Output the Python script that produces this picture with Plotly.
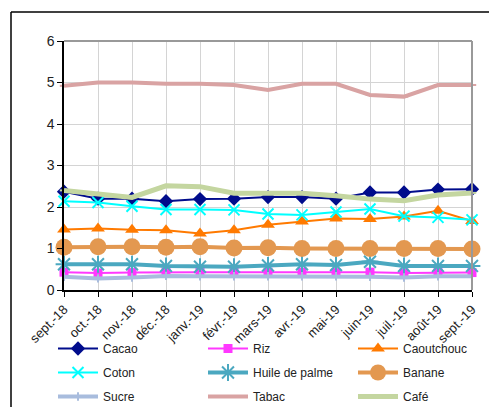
import plotly.graph_objects as go

months = ["sept.-18", "oct.-18", "nov.-18", "déc.-18", "janv.-19", "févr.-19", "mars-19",
          "avr.-19", "mai-19", "juin-19", "juil.-19", "août-19", "sept.-19"]

cacao = [2.37, 2.20, 2.20, 2.14, 2.19, 2.20, 2.24, 2.24, 2.20, 2.35, 2.35, 2.42, 2.43]
riz = [0.43, 0.41, 0.42, 0.43, 0.43, 0.43, 0.43, 0.43, 0.42, 0.43, 0.41, 0.42, 0.42]
caoutchouc = [1.46, 1.48, 1.45, 1.44, 1.36, 1.44, 1.57, 1.65, 1.72, 1.71, 1.77, 1.91, 1.66]
coton = [2.14, 2.11, 2.02, 1.94, 1.94, 1.93, 1.83, 1.81, 1.88, 1.95, 1.78, 1.75, 1.69]
huile = [0.62, 0.62, 0.62, 0.58, 0.56, 0.56, 0.59, 0.62, 0.60, 0.68, 0.58, 0.58, 0.58]
banane = [1.03, 1.04, 1.04, 1.03, 1.04, 1.01, 1.02, 1.00, 1.00, 1.00, 1.00, 1.00, 0.99]
sucre = [0.32, 0.28, 0.30, 0.34, 0.33, 0.33, 0.33, 0.33, 0.33, 0.32, 0.30, 0.33, 0.33]
tabac = [4.92, 5.00, 5.00, 4.97, 4.97, 4.94, 4.82, 4.97, 4.97, 4.70, 4.66, 4.94, 4.94]
cafe = [2.40, 2.31, 2.23, 2.51, 2.49, 2.33, 2.33, 2.33, 2.27, 2.19, 2.15, 2.29, 2.34]

series = [
    # name, values, color, width, symbol, size, legend
    ("Cacao", cacao, "#000C8C", 2, "diamond", 11, "legend"),
    ("Riz", riz, "#FF38FF", 2, "square", 9, "legend2"),
    ("Caoutchouc", caoutchouc, "#FF7A00", 2, "triangle-up", 12, "legend3"),
    ("Coton", coton, "#00FFFF", 2, "x-thin-open", 11, "legend"),
    ("Huile de palme", huile, "#4BA8C0", 4, "asterisk-open", 14, "legend2"),
    ("Banane", banane, "#E39850", 4, "circle", 17, "legend3"),
    ("Sucre", sucre, "#A8BCDD", 4, "line-ns-open", 6, "legend"),
    ("Tabac", tabac, "#D9A3A3", 4, "line-ew-open", 6, "legend2"),
    ("Café", cafe, "#C4D6A0", 5, "line-ew-open", 6, "legend3"),
]

fig = go.Figure()
for i, (name, vals, color, w, sym, size, lg) in enumerate(series):
    fig.add_trace(go.Scatter(
        x=months, y=vals, name=name, mode="lines+markers",
        line=dict(color=color, width=w),
        marker=dict(symbol=sym, size=size, color=color,
                    line=dict(color=color, width=2 if "open" in sym else 0)),
        cliponaxis=False, legend=lg, legendgroup=name,
    ))

font = "Liberation Sans, Arial, sans-serif"
leg_common = dict(orientation="v", xref="container", yref="container",
                  xanchor="left", yanchor="top", tracegroupgap=5,
                  font=dict(family=font, size=12, color="#222"),
                  bgcolor="rgba(0,0,0,0)", itemwidth=40)
W, H = 489, 407
fig.update_layout(
    width=W, height=H,
    margin=dict(l=64, r=17, t=41, b=117, autoexpand=False),
    paper_bgcolor="white", plot_bgcolor="white",
    font=dict(family=font, size=12, color="#222"),
    legend=dict(x=53 / W, y=1 - 334 / H, **leg_common),
    legend2=dict(x=203 / W, y=1 - 334 / H, **leg_common),
    legend3=dict(x=353 / W, y=1 - 334 / H, **leg_common),
    xaxis=dict(type="category", range=[0, 12], showgrid=True, gridcolor="#D4D4D4",
               gridwidth=1, showline=True, linecolor="#000", linewidth=1.5,
               ticks="outside", ticklen=5, tickcolor="#000", tickangle=-45,
               tickfont=dict(family=font, size=13, color="#222"), zeroline=False,
               automargin=False),
    yaxis=dict(range=[0, 6], dtick=1, showgrid=True, gridcolor="#D4D4D4", gridwidth=1,
               showline=True, linecolor="#000", linewidth=1.5,
               ticks="outside", ticklen=5, tickcolor="#000",
               tickfont=dict(family=font, size=14, color="#222"), zeroline=False,
               automargin=False),
    shapes=[
        dict(type="line", xref="paper", yref="paper", x0=0, x1=1, y0=1, y1=1,
             line=dict(color="#999", width=2)),
        dict(type="line", xref="paper", yref="paper", x0=1, x1=1, y0=0, y1=1,
             line=dict(color="#999", width=2)),
        dict(type="line", xref="paper", yref="paper", x0=(11 - 64) / 408, x1=1.1,
             y0=(290 - 12) / 249, y1=(290 - 12) / 249, line=dict(color="#000", width=1.5)),
        dict(type="line", xref="paper", yref="paper", x0=(11 - 64) / 408, x1=(11 - 64) / 408,
             y0=-0.5, y1=(290 - 12) / 249, line=dict(color="#000", width=1.5)),
    ],
)
fig.write_html("out.html", config={"displayModeBar": False},
               post_script="document.body.style.margin='0px';")
